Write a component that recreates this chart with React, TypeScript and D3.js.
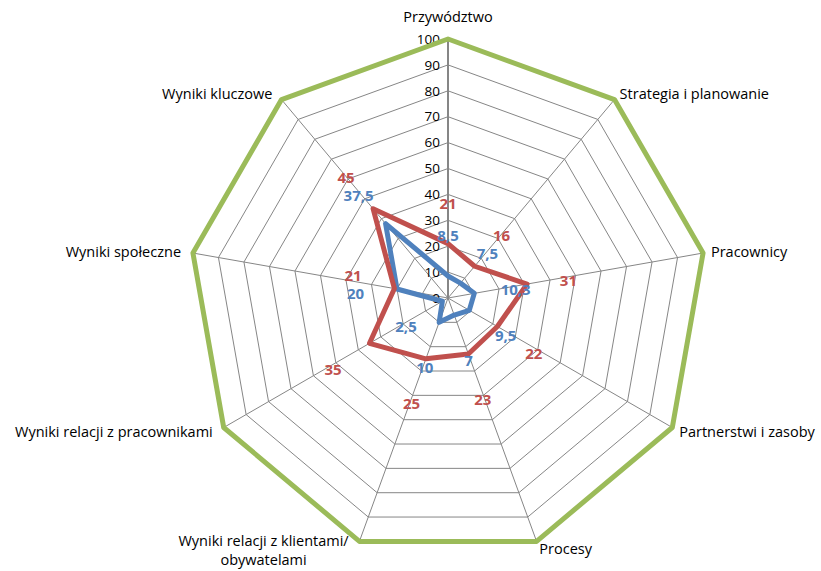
import React, { useEffect, useRef } from 'react';
import * as d3 from 'd3';

const categories = [
  'Przywództwo',
  'Strategia i planowanie',
  'Pracownicy',
  'Partnerstwi i zasoby',
  'Procesy',
  'Wyniki relacji z klientami/\nobywatelami',
  'Wyniki relacji z pracownikami',
  'Wyniki społeczne',
  'Wyniki kluczowe',
];
const blueValues = [8.5, 7.5, 10.3, 9.5, 7, 10, 2.5, 20, 37.5];
const redValues = [21, 16, 31, 22, 23, 25, 35, 21, 45];
const greenValues = [100, 100, 100, 100, 100, 100, 100, 100, 100];
const ticks = [0, 10, 20, 30, 40, 50, 60, 70, 80, 90, 100];

const width = 821;
const height = 571;
const cx = 448;
const cy = 298;
const R = 259;
const font = 'Open Sans, sans-serif';

const App = () => {
  const svgRef = useRef<SVGSVGElement>(null);

  useEffect(() => {
    document.body.style.margin = '0';
    const svg = d3.select(svgRef.current);
    svg.selectAll('*').remove();

    const n = categories.length;
    const angle = d3.scaleLinear().domain([0, n]).range([0, 2 * Math.PI]);
    const r = d3.scaleLinear().domain([0, 100]).range([0, R]);
    const pt = (i: number, v: number): [number, number] => [
      cx + r(v) * Math.sin(angle(i)),
      cy - r(v) * Math.cos(angle(i)),
    ];
    const poly = d3.line<number>().x((v, i) => pt(i, v)[0]).y((v, i) => pt(i, v)[1]).curve(d3.curveLinearClosed);

    // grid rings
    ticks.slice(1).forEach(t => {
      svg.append('path')
        .attr('d', poly(categories.map(() => t)))
        .attr('fill', 'none')
        .attr('stroke', '#868686')
        .attr('stroke-width', 1);
    });
    // spokes
    categories.forEach((c, i) => {
      const [x, y] = pt(i, 100);
      svg.append('line')
        .attr('x1', cx).attr('y1', cy).attr('x2', x).attr('y2', y)
        .attr('stroke', '#868686')
        .attr('stroke-width', i === 0 ? 2 : 1);
    });

    // tick labels
    svg.append('g').selectAll('text').data(ticks).enter().append('text')
      .attr('x', cx - 8)
      .attr('y', d => cy - r(d))
      .attr('dy', '0.35em')
      .attr('text-anchor', 'end')
      .attr('font-family', font)
      .attr('font-size', 13.5)
      .attr('fill', '#000')
      .text(d => d);

    // category labels
    categories.forEach((c, i) => {
      const a = angle(i);
      const s = Math.sin(a);
      const co = Math.cos(a);
      let x = cx + (R + 8) * s;
      let y = cy - (R + 8) * co;
      if (co > 0.9) y -= 14;
      const anchor = s > 0.1 ? 'start' : s < -0.1 ? 'end' : 'middle';
      if (anchor === 'end') x -= 4;
      const lines = c.split('\n');
      const text = svg.append('text')
        .attr('font-family', font)
        .attr('font-size', 14.5)
        .attr('fill', '#000')
        .attr('text-anchor', lines.length > 1 ? 'middle' : anchor);
      if (lines.length > 1) {
        const first = text.append('tspan').attr('x', x).attr('y', y - 8).attr('dy', '0.35em').text(lines[0]);
        const w = (first.node() as SVGTextContentElement).getComputedTextLength();
        const mid = x - 4 - w / 2;
        first.attr('x', mid);
        text.append('tspan').attr('x', mid).attr('y', y + 11).attr('dy', '0.35em').text(lines[1]);
      } else {
        text.attr('x', x).attr('y', y).attr('dy', '0.35em').text(c);
      }
    });

    const series = [
      { values: blueValues, color: '#4F81BD' },
      { values: redValues, color: '#C0504D' },
      { values: greenValues, color: '#9BBB59' },
    ];
    series.forEach(s => {
      svg.append('path')
        .attr('d', poly(s.values))
        .attr('fill', 'none')
        .attr('stroke', s.color)
        .attr('stroke-width', 5)
        .attr('stroke-linejoin', 'round');
    });

    // data labels, pushed apart vertically where blue and red collide
    const labelPos = (i: number, v: number): [number, number] => {
      const a = angle(i);
      const [px, py] = pt(i, v);
      return [px + 42 * Math.sin(a), py - 44 * Math.cos(a) + 4];
    };
    const blueLab = blueValues.map((v, i) => labelPos(i, v));
    const redLab = redValues.map((v, i) => labelPos(i, v));
    categories.forEach((c, i) => {
      const dx = blueLab[i][0] - redLab[i][0];
      const dy = blueLab[i][1] - redLab[i][1];
      if (Math.abs(dx) < 30 && Math.abs(dy) < 18) {
        const push = (18 - Math.abs(dy)) / 2;
        const up = blueLab[i][1] <= redLab[i][1] ? -1 : 1;
        blueLab[i][1] += up * push;
        redLab[i][1] -= up * push;
      }
    });
    const labelled = [
      { values: blueValues, pos: blueLab, color: '#4F81BD' },
      { values: redValues, pos: redLab, color: '#C0504D' },
    ];
    labelled.forEach(s => {
      svg.append('g').selectAll('text').data(s.values).enter().append('text')
        .attr('x', (v, i) => s.pos[i][0])
        .attr('y', (v, i) => s.pos[i][1])
        .attr('dy', '0.35em')
        .attr('text-anchor', 'middle')
        .attr('font-family', font)
        .attr('font-size', 15)
        .attr('font-weight', 'bold')
        .attr('fill', s.color)
        .text(v => String(v).replace('.', ','));
    });
  }, []);

  return (
    <svg
      ref={svgRef}
      width={width}
      height={height}
      style={{ position: 'absolute', left: 0, top: 0, background: '#fff' }}
    />
  );
};

export default App;
